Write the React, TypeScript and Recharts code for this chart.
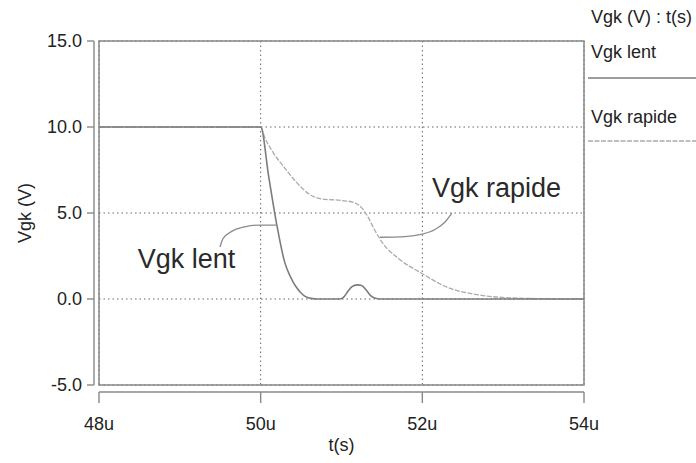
import React from "react"
import {
  LineChart,
  Line,
  XAxis,
  YAxis,
  CartesianGrid,
  ReferenceArea,
  ReferenceDot,
  Legend,
} from "recharts"

// time in µs, voltage in V
const LENT_T = [48, 50, 50.1, 50.2, 50.3, 50.33, 50.4, 50.44, 50.5, 50.55, 50.64, 50.7, 50.98, 51.03, 51.08, 51.13, 51.19, 51.25, 51.3, 51.36, 51.43, 51.5, 52, 53, 54]
const LENT_V = [10, 10, 7.1, 4.3, 2.1, 1.7, 1.0, 0.7, 0.35, 0.15, 0.02, 0, 0, 0.12, 0.45, 0.72, 0.82, 0.78, 0.55, 0.2, 0.03, 0, 0, 0, 0]

const RAPIDE_T = [48, 50, 50.05, 50.15, 50.3, 50.45, 50.6, 50.75, 51.0, 51.15, 51.25, 51.33, 51.4, 51.51, 51.72, 51.99, 52.21, 52.3, 52.71, 53.12, 53.5, 54]
const RAPIDE_V = [10, 10, 9.4, 8.55, 7.6, 6.75, 6.1, 5.82, 5.73, 5.62, 5.3, 4.75, 4.1, 3.25, 2.3, 1.5, 0.9, 0.7, 0.23, 0.06, 0.02, 0]

// annotation leaders
const LENT_LEADER_T = [49.497, 49.534, 49.642, 49.803, 49.992, 50.202]
const LENT_LEADER_V = [3.02, 3.51, 3.93, 4.2, 4.3, 4.3]
const RAPIDE_LEADER_T = [51.476, 51.786, 51.996, 52.157, 52.281, 52.364]
const RAPIDE_LEADER_V = [3.59, 3.63, 3.77, 4.04, 4.48, 4.98]

const X_TICKS = [48, 50, 52, 54]
const Y_TICKS = [-5, 0, 5, 10, 15]

const LEGEND_TITLE = "Vgk (V) : t(s)"
const SERIES = [
  { key: "lent", name: "Vgk lent", color: "#7c7c7c", dash: undefined as string | undefined, width: 1.6 },
  { key: "rapide", name: "Vgk rapide", color: "#ababab", dash: "5 1.5", width: 1.3 },
]

const FONT = '"Liberation Sans", Arial, Helvetica, sans-serif'
const TEXT = "#222"
const AXIS = "#888"

function zip(ts: number[], vs: number[]) {
  return ts.map((t, i) => ({ t, v: vs[i] }))
}

const lentData = zip(LENT_T, LENT_V)
const rapideData = zip(RAPIDE_T, RAPIDE_V)
const lentLeader = zip(LENT_LEADER_T, LENT_LEADER_V)
const rapideLeader = zip(RAPIDE_LEADER_T, RAPIDE_LEADER_V)

function annot(text: string) {
  return (props: any) => (
    <text x={props.cx} y={props.cy} fontSize={27} fill="#2a2a2a" fontFamily={FONT}>
      {text}
    </text>
  )
}

function LegendBox() {
  return (
    <svg width={108} height={150} style={{ display: "block", fontFamily: FONT }}>
      <text x={3} y={23} fontSize={18} fill={TEXT}>
        {LEGEND_TITLE}
      </text>
      {SERIES.map((s, i) => (
        <g key={s.key}>
          <text x={3} y={58 + i * 65} fontSize={18} fill={TEXT}>
            {s.name}
          </text>
          <line
            x1={0}
            x2={108}
            y1={78 + i * 63}
            y2={78 + i * 63}
            stroke={s.color}
            strokeWidth={s.width}
            strokeDasharray={s.dash}
          />
        </g>
      ))}
    </svg>
  )
}

const xShift = { transform: "translate(0,7)", style: { transform: "translate(0px,7px)" } }
const yShift = { transform: "translate(-5,0)", style: { transform: "translate(-5px,0px)" } }

export default function App() {
  return (
    <div style={{ position: "absolute", left: 0, top: 0, background: "#fff" }}>
      <LineChart
        width={696}
        height={463}
        margin={{ top: 41, right: 112, left: 0, bottom: 0 }}
        style={{ fontFamily: FONT }}
      >
        <CartesianGrid stroke="#666" strokeDasharray="1.5 3" />
        <XAxis
          dataKey="t"
          type="number"
          domain={[48, 54]}
          ticks={X_TICKS}
          tickFormatter={(v) => `${v}u`}
          height={78}
          tickSize={11}
          tickMargin={21}
          axisLine={{ stroke: AXIS, strokeWidth: 1.4, ...xShift }}
          tickLine={{ stroke: AXIS, strokeWidth: 1.4, ...xShift }}
          tick={{ fontSize: 18, fill: TEXT }}
          label={{ value: "t(s)", position: "insideBottom", offset: 12, fontSize: 18, fill: TEXT }}
        />
        <YAxis
          type="number"
          domain={[-5, 15]}
          ticks={Y_TICKS}
          tickFormatter={(v) => v.toFixed(1)}
          width={99}
          tickSize={7}
          tickMargin={10}
          axisLine={{ stroke: AXIS, strokeWidth: 1.4, ...yShift }}
          tickLine={{ stroke: AXIS, strokeWidth: 1.4, ...yShift }}
          tick={{ fontSize: 18, fill: TEXT }}
          label={{
            value: "Vgk (V)",
            angle: -90,
            position: "insideLeft",
            offset: 25,
            fontSize: 18,
            fill: TEXT,
            style: { textAnchor: "middle" },
          }}
        />
        <ReferenceArea x1={48} x2={54} y1={-5} y2={15} fill="none" stroke={AXIS} strokeWidth={1.5} />
        <Line
          data={rapideData}
          dataKey="v"
          name={SERIES[1].name}
          type="monotone"
          stroke={SERIES[1].color}
          strokeWidth={SERIES[1].width}
          strokeDasharray={SERIES[1].dash}
          dot={false}
          activeDot={false}
          isAnimationActive={false}
        />
        <Line
          data={lentData}
          dataKey="v"
          name={SERIES[0].name}
          type="monotone"
          stroke={SERIES[0].color}
          strokeWidth={SERIES[0].width}
          dot={false}
          activeDot={false}
          isAnimationActive={false}
        />
        <Line
          data={lentLeader}
          dataKey="v"
          type="monotone"
          stroke="#8c8c8c"
          strokeWidth={1.3}
          dot={false}
          activeDot={false}
          legendType="none"
          isAnimationActive={false}
        />
        <Line
          data={rapideLeader}
          dataKey="v"
          type="monotone"
          stroke="#8c8c8c"
          strokeWidth={1.3}
          dot={false}
          activeDot={false}
          legendType="none"
          isAnimationActive={false}
        />
        <ReferenceDot x={48.48} y={1.8} r={0} shape={annot("Vgk lent")} />
        <ReferenceDot x={52.12} y={5.93} r={0} shape={annot("Vgk rapide")} />
        <Legend
          align="center"
          verticalAlign="middle"
          content={() => <LegendBox />}
          wrapperStyle={{ left: 588, top: 0, width: 108 }}
        />
      </LineChart>
    </div>
  )
}
